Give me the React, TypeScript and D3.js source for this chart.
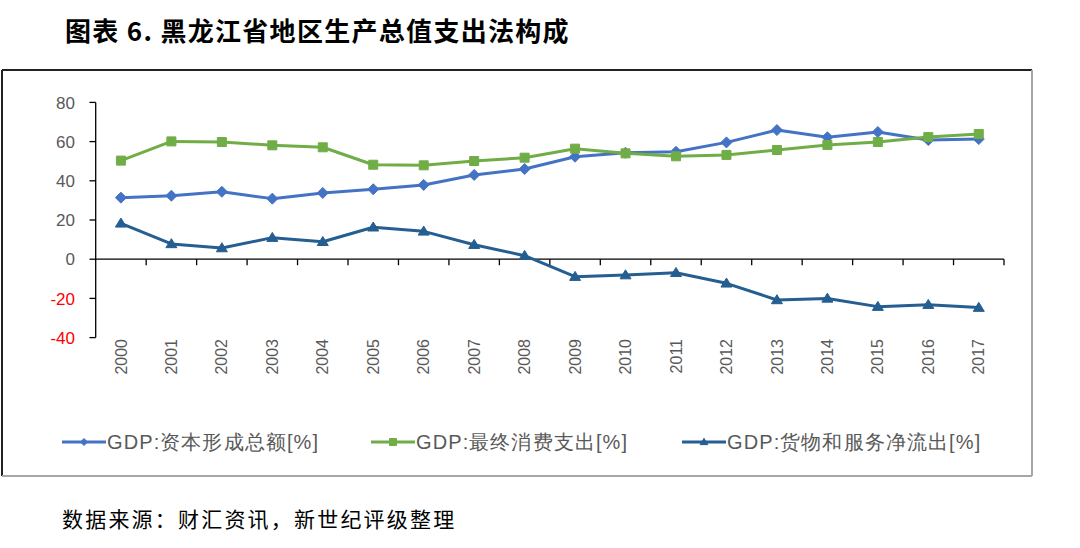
import React from "react";
import * as d3 from "d3";

const years = ["2000","2001","2002","2003","2004","2005","2006","2007","2008","2009","2010","2011","2012","2013","2014","2015","2016","2017"];
const capitalFormation = [31.4,32.4,34.4,30.9,33.8,35.7,37.9,43.0,46.0,52.3,54.3,54.8,59.6,65.9,62.2,64.9,60.8,61.3];
const finalConsumption = [50.3,60.1,59.8,58.1,57.1,48.2,47.9,50.1,51.8,56.4,54.0,52.5,53.2,55.7,58.3,59.8,62.3,63.9];
const netExports = [18.3,7.8,5.7,11.0,8.9,16.3,14.2,7.4,1.8,-8.9,-8.1,-6.9,-12.3,-20.8,-20.0,-24.2,-23.2,-24.7];
const yTicks = [80,60,40,20,0,-20,-40];
const seriesNames = ["GDP:资本形成总额[%]","GDP:最终消费支出[%]","GDP:货物和服务净流出[%]"];
const title = "图表 6. 黑龙江省地区生产总值支出法构成";
const source = "数据来源：财汇资讯，新世纪评级整理";

const W = 1080, H = 548;
const colors = ["#4472C4", "#70AD47", "#255E91"];
const markers = ["diamond", "square", "triangle"];

function Marker({ type, x, y, color, r }: { type: string; x: number; y: number; color: string; r: number }) {
  let d = "";
  if (type === "diamond") d = `M0,${-r}L${r},0L0,${r}L${-r},0Z`;
  else if (type === "square") d = `M${-r},${-r}H${r}V${r}H${-r}Z`;
  else d = `M0,${-r * 1.05}L${r * 1.1},${r * 0.75}H${-r * 1.1}Z`;
  return <path d={d} transform={`translate(${x},${y})`} fill={color} stroke={color} strokeWidth={1} strokeLinejoin="miter" />;
}

export default function App() {
  const x = d3.scaleBand().domain(years).range([95.7, 1004]).padding(0);
  const y = d3.scaleLinear().domain([-40, 80]).range([337.6, 102.4]);
  const cx = (d: string) => (x(d) as number) + x.bandwidth() / 2;
  const data = [capitalFormation, finalConsumption, netExports];
  const line = d3.line<number>().x((_, i) => cx(years[i])).y((v) => y(v));
  const radii = [5.5, 4.5, 5];
  const labelFont = "'Liberation Sans', Arial, sans-serif";
  const legendX = [62, 371, 682];
  return (
    <div style={{ position: "absolute", left: 0, top: 0 }}>
      <svg width={W} height={H} style={{ display: "block", background: "#fff" }}>
        <text x={65} y={41} fontFamily="'Noto Sans CJK SC', sans-serif" fontWeight="bold" fontSize={26} letterSpacing={1.3} fill="#000">{title}</text>
        {/* frame */}
        <line x1={2} y1={70} x2={1032} y2={70} stroke="#222" strokeWidth={2} />
        <line x1={2} y1={70} x2={2} y2={476} stroke="#222" strokeWidth={2} />
        <line x1={1032} y1={70} x2={1032} y2={476} stroke="#a6a6a6" strokeWidth={2} />
        <line x1={2} y1={476} x2={1032} y2={476} stroke="#a6a6a6" strokeWidth={2} />
        {/* y axis */}
        <line x1={95.7} y1={y(80)} x2={95.7} y2={y(-40)} stroke="#000" strokeWidth={1.3} />
        {yTicks.map((t) => (
          <g key={t}>
            <line x1={89.5} x2={95.7} y1={y(t)} y2={y(t)} stroke="#000" strokeWidth={1.3} />
            <text x={75} y={y(t)} dy="0.36em" textAnchor="end" fontFamily={labelFont} fontSize={17} fill={t < 0 ? "#ff0000" : "#595959"}>{t}</text>
          </g>
        ))}
        {/* x axis */}
        <line x1={95.7} x2={1004} y1={y(0)} y2={y(0)} stroke="#000" strokeWidth={1.3} />
        {years.map((yr) => (
          <line key={yr} x1={(x(yr) as number) + x.bandwidth()} x2={(x(yr) as number) + x.bandwidth()} y1={y(0)} y2={y(0) + 6} stroke="#000" strokeWidth={1.3} />
        ))}
        {years.map((yr) => (
          <text key={yr} transform={`translate(${cx(yr)},339) rotate(-90)`} dy="0.35em" textAnchor="end" fontFamily={labelFont} fontSize={16} fill="#595959">{yr}</text>
        ))}
        {/* series */}
        {data.map((ser, k) => (
          <g key={k}>
            <path d={line(ser) || ""} fill="none" stroke={colors[k]} strokeWidth={3} strokeLinejoin="round" />
            {ser.map((v, i) => (
              <Marker key={i} type={markers[k]} x={cx(years[i])} y={y(v)} color={colors[k]} r={radii[k]} />
            ))}
          </g>
        ))}
        {/* legend */}
        {seriesNames.map((n, k) => (
          <g key={n}>
            <line x1={legendX[k]} x2={legendX[k] + 44} y1={442} y2={442} stroke={colors[k]} strokeWidth={3} />
            <Marker type={markers[k]} x={legendX[k] + 22} y={442} color={colors[k]} r={3.5} />
            <text x={legendX[k] + 45} y={442} dy="0.36em" fontFamily={labelFont} fontSize={20} letterSpacing={1.1} fill="#595959">{n}</text>
          </g>
        ))}
        <text x={62} y={519} dy="0.36em" fontFamily="'Noto Sans CJK SC', sans-serif" fontSize={21} letterSpacing={2.2} fill="#000">{source}</text>
      </svg>
    </div>
  );
}
